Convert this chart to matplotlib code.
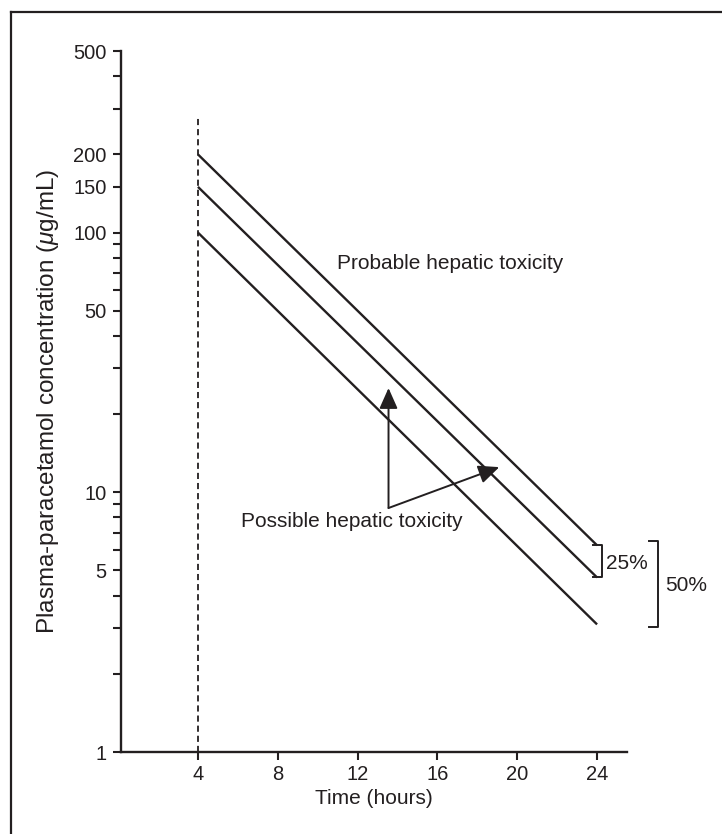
"""Rumack-Matthew style paracetamol nomogram on a log concentration axis."""

import matplotlib

matplotlib.use("Agg")
import matplotlib.pyplot as plt
from matplotlib.lines import Line2D
from matplotlib.ticker import FixedLocator, NullFormatter

# time points of the treatment lines (hours)
line_hours = [4, 24]
# concentrations (ug/mL) at those hours
probable_line = [200, 6.25]
line_25pct = [150, 4.7]
line_50pct = [100, 3.1]

x_ticks = [4, 8, 12, 16, 20, 24]
y_major = [1, 5, 10, 50, 100, 150, 200, 500]
y_minor = [2, 3, 4, 6, 7, 8, 9, 20, 30, 40, 60, 70, 80, 90, 300, 400]

INK = "#231f20"

plt.rcParams["font.family"] = ["Liberation Sans", "DejaVu Sans"]
plt.rcParams["mathtext.fontset"] = "custom"
plt.rcParams["mathtext.it"] = "Liberation Sans:italic"
plt.rcParams["text.color"] = INK
plt.rcParams["axes.labelcolor"] = INK

fig = plt.figure(figsize=(7.22, 8.34), dpi=100)
ax = fig.add_axes([0.1672, 0.0983, 0.7012, 0.8405])

# frame lines on the left and top of the picture
fig.add_artist(Line2D([0.0152, 0.0152], [0, 0.9856], transform=fig.transFigure, color=INK, lw=1.6))
fig.add_artist(Line2D([0.0152, 1.0], [0.9856, 0.9856], transform=fig.transFigure, color=INK, lw=1.6))

ax.set_yscale("log")
ax.set_xlim(0.13, 25.5)
ax.set_ylim(1, 500)

for series in (probable_line, line_25pct, line_50pct):
    ax.plot(line_hours, series, color=INK, lw=1.7, solid_capstyle="butt")

# 4 h marker
ax.plot([4, 4], [1, 280], color=INK, lw=1.3, dashes=(3.4, 2.2))

# brackets at the line ends
def bracket(x, y0, y1, serif):
    ax.plot([x - serif, x, x, x - serif], [y0, y0, y1, y1], color=INK, lw=1.4, clip_on=False)

bracket(24.25, probable_line[-1], line_25pct[-1], 0.45)
bracket(27.05, probable_line[-1] * 1.04, line_50pct[-1] * 0.98, 0.45)
ax.text(24.45, 5.34, "25%", fontsize=15, ha="left", va="center", clip_on=False)
ax.text(27.4, 4.36, "50%", fontsize=15, ha="left", va="center", clip_on=False)

ax.text(16.65, 76, "Probable hepatic toxicity", fontsize=15, ha="center", va="center")
ax.text(11.7, 7.7, "Possible hepatic toxicity", fontsize=15, ha="center", va="center")

arrow = dict(arrowstyle="-|>,head_length=0.9,head_width=0.4", color=INK, lw=1.4,
             shrinkA=0, shrinkB=0, mutation_scale=14)
ax.annotate("", xy=(13.55, 25.2), xytext=(13.55, 8.7), arrowprops=arrow)
ax.annotate("", xy=(19.1, 12.5), xytext=(13.55, 8.7), arrowprops=arrow)

ax.yaxis.set_major_locator(FixedLocator(y_major))
ax.yaxis.set_minor_locator(FixedLocator(y_minor))
ax.set_yticklabels([str(v) for v in y_major])
ax.yaxis.set_minor_formatter(NullFormatter())
ax.set_xticks(x_ticks)
ax.set_xticklabels([str(v) for v in x_ticks])

ax.tick_params(which="both", direction="out", length=6, width=1.5, color=INK,
               labelsize=14.5, labelcolor=INK)
ax.tick_params(axis="y", pad=4)
ax.tick_params(axis="x", pad=3)

for side in ("top", "right"):
    ax.spines[side].set_visible(False)
for side in ("left", "bottom"):
    ax.spines[side].set_linewidth(1.7)
    ax.spines[side].set_color(INK)

ax.set_xlabel("Time (hours)", fontsize=15, labelpad=4)
ax.set_ylabel(r"Plasma-paracetamol concentration ($\mathit{\mu}$g/mL)", fontsize=17.5, labelpad=9)

fig.savefig("out.png", dpi=100)
